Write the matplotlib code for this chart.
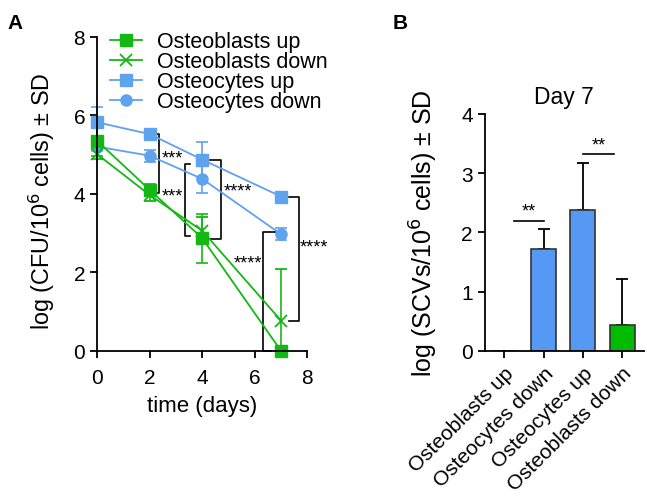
import matplotlib
matplotlib.use("Agg")
import matplotlib.pyplot as plt
from matplotlib.lines import Line2D
import numpy as np

plt.rcParams["font.family"] = ["Liberation Sans", "DejaVu Sans"]
plt.rcParams["font.size"] = 15

# ---- panel A data: log CFU over time ----
days = [0, 2, 4, 7]
series = ["Osteoblasts up", "Osteoblasts down", "Osteocytes up", "Osteocytes down"]
ob_up = [5.35, 4.10, 2.87, 0.0]
ob_up_sd = [0.40, 0.15, 0.62, 0.0]
ob_down = [5.01, 3.97, 3.06, 0.77]
ob_down_sd_lo = [0.12, 0.15, 0.35, 0.77]
ob_down_sd_hi = [0.12, 0.15, 0.35, 1.32]
oc_up = [5.82, 5.52, 4.87, 3.93]
oc_up_sd = [0.40, 0.05, 0.45, 0.05]
oc_down = [5.20, 4.97, 4.38, 2.97]
oc_down_sd = [0.10, 0.15, 0.35, 0.15]

# ---- panel B data: SCVs at day 7 ----
groups = ["Osteoblasts up", "Osteocytes down", "Osteocytes up", "Osteoblasts down"]
scv = [0.0, 1.72, 2.38, 0.43]
scv_sd = [0.0, 0.33, 0.80, 0.78]

GREEN = "#14b814"
BLUE = "#5fa2ee"
BAR_BLUE = "#5599f5"
BAR_GREEN = "#00bb00"

fig = plt.figure(figsize=(6.47, 5.02), dpi=100)

# ================= Panel A =================
ax = fig.add_axes([0.150, 0.299, 0.325, 0.626])
kw = dict(capsize=4, elinewidth=1.2, capthick=1.2, lw=1.3, clip_on=False)
ax.errorbar(days, oc_up, yerr=oc_up_sd, color=BLUE, marker="s", ms=9, **kw)
ax.errorbar(days, oc_down, yerr=oc_down_sd, color=BLUE, marker="o", ms=8, **kw)
ax.errorbar(days, ob_up, yerr=ob_up_sd, color=GREEN, marker="s", ms=8, **kw)
ax.errorbar(days, ob_down, yerr=[ob_down_sd_lo, ob_down_sd_hi], color=GREEN,
            marker="x", ms=9, mew=1.3, **kw)

# significance brackets
def bracket(x, y1, y2, x1, x2):
    ax.plot([x1, x, x, x2], [y1, y1, y2, y2], color="black", lw=1.2,
            clip_on=False)

bracket(2.37, 5.52, 4.03, 2.1, 2.1)
bracket(3.33, 4.76, 2.93, 3.55, 3.55)
bracket(4.71, 4.87, 2.85, 4.3, 4.3)
bracket(6.31, 3.02, 0.0, 6.95, 6.6)
bracket(7.67, 3.93, 0.77, 7.3, 7.3)
star = dict(fontsize=13, va="center")
ax.text(2.45, 4.90, "***", ha="left", **star)
ax.text(3.28, 3.95, "***", ha="right", **star)
ax.text(4.80, 4.08, "****", ha="left", **star)
ax.text(6.28, 2.25, "****", ha="right", **star)
ax.text(7.72, 2.65, "****", ha="left", **star)

ax.set_xlim(0, 8)
ax.set_ylim(0, 8)
ax.set_xticks([0, 2, 4, 6, 8])
ax.set_yticks([0, 2, 4, 6, 8])
ax.set_xlabel("time (days)", labelpad=6, fontsize=16)
ax.set_ylabel("log (CFU/10$^{6}$ cells) ± SD", fontsize=16.8)
ax.yaxis.set_label_coords(-0.19, 0.48)

handles = [
    Line2D([], [], color=GREEN, marker="s", ms=8, lw=1.3),
    Line2D([], [], color=GREEN, marker="x", ms=9, mew=1.3, lw=1.3),
    Line2D([], [], color=BLUE, marker="s", ms=9, lw=1.3),
    Line2D([], [], color=BLUE, marker="o", ms=8, lw=1.3),
]
ax.legend(handles, series, loc="upper left", bbox_to_anchor=(-0.01, 1.065),
          frameon=False, handlelength=1.5, handletextpad=0.7,
          labelspacing=-0.05, borderpad=0.2, fontsize=15.5)

# ================= Panel B =================
bx = fig.add_axes([0.749, 0.299, 0.246, 0.472])
xpos = np.arange(len(groups))
colors = [BAR_GREEN, BAR_BLUE, BAR_BLUE, BAR_GREEN]
bx.bar(xpos, scv, width=0.63, color=colors, edgecolor="#333333", lw=1.2,
       zorder=2)
bx.errorbar(xpos[1:], scv[1:], yerr=[np.zeros(3), scv_sd[1:]], fmt="none",
            ecolor="black", elinewidth=1.3, capsize=4, capthick=1.3, zorder=1)
bx.plot([0.25, 1.0], [2.2, 2.2], color="black", lw=1.2)
bx.text(0.62, 2.22, "**", ha="center", va="bottom", fontsize=13)
bx.plot([2.0, 2.8], [3.32, 3.32], color="black", lw=1.2)
bx.text(2.4, 3.34, "**", ha="center", va="bottom", fontsize=13)

bx.set_xlim(-0.5, 3.55)
bx.set_ylim(0, 4)
bx.set_yticks([0, 1, 2, 3, 4])
bx.set_xticks(xpos)
bx.set_xticklabels(groups, rotation=45, ha="right", rotation_mode="anchor")
bx.set_ylabel("log (SCVs/10$^{6}$ cells) ± SD", labelpad=15, fontsize=18)
bx.set_title("Day 7", fontsize=16.5, pad=8)

for a in (ax, bx):
    for s in ("top", "right"):
        a.spines[s].set_visible(False)
    for s in ("left", "bottom"):
        a.spines[s].set_linewidth(1.3)
    a.tick_params(direction="out", length=5, width=1.3, labelsize=15)
ax.tick_params(axis="x", pad=7)

fig.text(0.011, 0.972, "A", fontsize=15, fontweight="bold", va="top")
fig.text(0.607, 0.972, "B", fontsize=15, fontweight="bold", va="top")

fig.savefig("out.png", dpi=100)
